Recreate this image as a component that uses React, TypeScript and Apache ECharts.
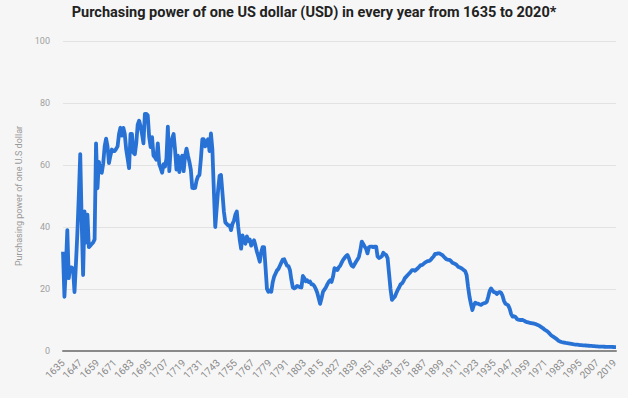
import React, { useEffect, useRef } from "react";
import * as echarts from "echarts";

const firstYear = 1635;
const lastYear = 2020;

// Purchasing power values, by span of years
const values1635to1699 = [
  32, 17.5, 27, 39, 23.5, 27, 27, 26.5, 19, 28,
  38, 50, 63.5, 42, 24.5, 45, 35, 44, 33.5, 34,
  34.5, 35, 36, 67, 52.5, 61, 58, 57.5, 60.5, 66,
  68.5, 66, 60.6, 63, 65, 64.5, 64.5, 65.2, 66, 70,
  72, 69.5, 72, 70, 65, 62, 59, 70, 70, 64,
  63.5, 67, 73, 74.3, 72.5, 70, 67, 76.5, 76.5, 76,
  69, 65.8, 69, 63, 62.5,
];
const values1700to1799 = [
  61.7, 67, 60.3, 59, 57.5, 60.3, 59.5, 62, 72.4, 58,
  65.5, 68.6, 70, 65, 58.5, 63, 57.7, 62, 63, 58,
  63, 65.3, 63, 61, 58.5, 52.6, 52.5, 52.6, 55, 56.3,
  56.8, 62, 68.3, 68.3, 66, 67.5, 68.3, 64.5, 70.2, 65,
  52, 40, 46, 52, 56.5, 56.8, 51, 45, 41.5, 41,
  40.5, 40.5, 39, 41, 42, 44, 45, 40, 36, 33,
  37.3, 35.5, 34.6, 37, 35.5, 36, 34, 35, 35.7, 34,
  32, 30.5, 28.8, 31.9, 33.5, 33.5, 27, 20, 19.1, 19.5,
  19.1, 22.2, 24, 25, 26, 26.5, 27.5, 28.5, 29.5, 29.6,
  28.5, 27.5, 27.4, 26.1, 23, 20.5, 20.2, 20.5, 21, 20.8,
];
const values1800to1899 = [
  20.6, 20.5, 24.2, 23.5, 22.5, 22.8, 22.2, 22.4, 21.5, 21.5,
  20.9, 20, 18.8, 17, 15.2, 17, 19.1, 19.8, 20.5, 21.5,
  22.3, 22.8, 22.3, 24, 26.7, 26.5, 26.1, 27, 27.5, 28.5,
  29.4, 30, 30.6, 31, 30, 28.5, 27.5, 27.2, 28, 28.8,
  29.5, 30.4, 32.5, 35.3, 34.5, 33.7, 33, 31.5, 33.5, 33.7,
  33.7, 33.5, 33.7, 33.7, 30.5, 30, 30.2, 30.6, 31.7, 31.2,
  31, 29.9, 25, 20, 16.5, 17, 17.5, 18.6, 19.7, 20.5,
  21.5, 21.8, 22.5, 23.5, 24, 24.5, 25, 25.5, 26.1, 26.1,
  25.9, 26.3, 26.7, 27.2, 27.7, 27.7, 28.1, 28.5, 28.8, 29,
  29.1, 29.4, 30, 30.5, 31.3, 31.3, 31.5, 31.5, 31.2, 31,
];
const values1900to2020 = [
  30.5, 30, 29.6, 29.4, 29.4, 29.1, 28.5, 28.3, 28.1, 27.8,
  27.2, 27, 26.8, 26.5, 26.1, 25.8, 24.5, 20.7, 17.5, 15.2,
  13.2, 14.8, 15.6, 15.3, 15.3, 15, 14.9, 15.2, 15.4, 15.5,
  15.8, 17.4, 19.3, 20.2, 19.5, 19, 18.9, 18.4, 18.8, 19,
  18.8, 17.8, 16.2, 15.3, 15, 14.7, 13.6, 11.9, 11.1, 11.2,
  11, 10.3, 10.1, 10, 10, 10, 9.8, 9.5, 9.3, 9.2,
  9.1, 9, 8.9, 8.8, 8.7, 8.5, 8.3, 8, 7.7, 7.4,
  7, 6.7, 6.4, 6, 5.5, 5, 4.7, 4.4, 4.1, 3.7,
  3.3, 3.1, 2.9, 2.8, 2.7, 2.6, 2.55, 2.48, 2.4, 2.32,
  2.22, 2.14, 2.08, 2.03, 1.98, 1.93, 1.88, 1.84, 1.81, 1.78,
  1.73, 1.69, 1.66, 1.63, 1.59, 1.55, 1.51, 1.48, 1.44, 1.44,
  1.42, 1.39, 1.37, 1.36, 1.34, 1.34, 1.33, 1.31, 1.29, 1.28,
  1.26,
];

const yTicks = [0, 20, 40, 60, 80, 100];

const years: string[] = [];
for (let y = firstYear; y <= lastYear; y++) years.push(String(y));

const values = [
  ...values1635to1699,
  ...values1700to1799,
  ...values1800to1899,
  ...values1900to2020,
];

export default function App() {
  const ref = useRef<HTMLDivElement>(null);
  useEffect(() => {
    if (!ref.current) return;
    const chart = echarts.init(ref.current, undefined, { renderer: "svg" });
    chart.setOption({
      animation: false,
      backgroundColor: "#f6f6f6",
      title: {
        text: "Purchasing power of one US dollar (USD) in every year from 1635 to 2020*",
        left: "center",
        top: 0,
        textStyle: {
          fontFamily: "Roboto, Arial, sans-serif",
          fontSize: 14.5,
          fontWeight: "bold",
          color: "#222",
        },
      },
      grid: { left: 63, right: 12, top: 41, bottom: 47, containLabel: false },
      xAxis: {
        type: "category",
        boundaryGap: false,
        data: years,
        axisTick: { show: false },
        axisLine: { lineStyle: { color: "#8a8a8a", width: 2 } },
        axisLabel: {
          interval: 11,
          rotate: 45,
          fontSize: 10,
          color: "#888",
          margin: 10,
          fontFamily: "Roboto, Arial, sans-serif",
        },
        splitLine: { show: false },
      },
      yAxis: {
        type: "value",
        min: yTicks[0],
        max: yTicks[yTicks.length - 1],
        interval: 20,
        name: "Purchasing power of one U.S dollar",
        nameLocation: "middle",
        nameGap: 31,
        nameTextStyle: {
          fontSize: 9,
          color: "#999",
          fontFamily: "Roboto, Arial, sans-serif",
        },
        axisLine: { show: false },
        axisTick: { show: false },
        axisLabel: {
          fontSize: 9,
          color: "#a0a0a0",
          margin: 13,
          fontFamily: "Roboto, Arial, sans-serif",
        },
        splitLine: { lineStyle: { color: "#e2e2e2", width: 1 } },
      },
      series: [
        {
          type: "line",
          data: values,
          showSymbol: false,
          symbol: "none",
          lineStyle: { color: "#2872d6", width: 3.8, join: "round" },
        },
      ],
    });
    return () => chart.dispose();
  }, []);
  return (
    <div
      ref={ref}
      style={{ position: "fixed", left: 0, top: 0, width: 628, height: 398 }}
    />
  );
}
